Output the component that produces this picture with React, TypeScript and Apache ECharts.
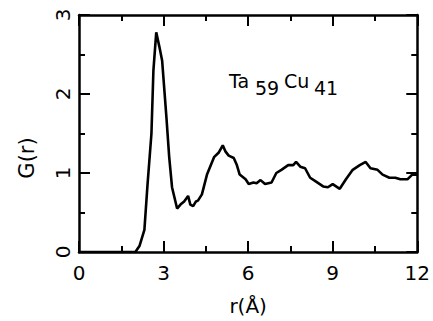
import React, { useEffect, useRef } from "react";
import * as echarts from "echarts";

const rValues = [0, 1.0, 2.0, 2.15, 2.32, 2.43, 2.57, 2.64, 2.74, 2.85, 2.95, 3.1, 3.2, 3.3, 3.48, 3.6, 3.73, 3.87, 3.95, 4.05, 4.15, 4.22, 4.36, 4.54, 4.79, 4.96, 5.1, 5.2, 5.31, 5.49, 5.6, 5.7, 5.91, 6.02, 6.19, 6.3, 6.44, 6.6, 6.83, 7.0, 7.18, 7.42, 7.6, 7.7, 7.85, 8.02, 8.2, 8.41, 8.66, 8.83, 9.0, 9.25, 9.47, 9.71, 9.96, 10.17, 10.34, 10.59, 10.77, 11.01, 11.22, 11.4, 11.65, 11.82, 12];
const gValues = [0, 0, 0, 0.08, 0.28, 0.85, 1.5, 2.3, 2.78, 2.6, 2.42, 1.71, 1.2, 0.82, 0.55, 0.6, 0.64, 0.71, 0.6, 0.58, 0.64, 0.65, 0.73, 0.98, 1.2, 1.26, 1.35, 1.27, 1.22, 1.19, 1.1, 0.98, 0.92, 0.86, 0.88, 0.87, 0.91, 0.86, 0.88, 1.0, 1.04, 1.1, 1.1, 1.14, 1.08, 1.06, 0.94, 0.89, 0.83, 0.82, 0.86, 0.8, 0.92, 1.04, 1.1, 1.14, 1.06, 1.04, 0.98, 0.94, 0.94, 0.92, 0.92, 0.98, 0.98];
const yTickLabels = [0, 1, 2, 3];

const FONT = "DejaVu Sans";

export default function App() {
  const ref = useRef<HTMLDivElement>(null);
  useEffect(() => {
    if (!ref.current) return;
    const chart = echarts.init(ref.current, null, { renderer: "svg" });
    const axisLine = { show: true, onZero: false, lineStyle: { color: "#000", width: 2.5 } };
    const tick = { show: true, inside: true, length: 11, lineStyle: { color: "#000", width: 2 } };
    const minor = { show: true, splitNumber: 2, length: 6, lineStyle: { color: "#000", width: 2 } };
    chart.setOption({
      animation: false,
      backgroundColor: "#fff",
      grid: { left: 79, right: 13, top: 15, bottom: 61, containLabel: false },
      xAxis: [
        {
          type: "value", position: "bottom", min: 0, max: 12, interval: 3,
          axisLine, axisTick: tick, minorTick: minor, splitLine: { show: false },
          axisLabel: { color: "#000", fontSize: 20, fontFamily: FONT, margin: 11 },
          name: "r(Å)", nameLocation: "middle", nameGap: 44,
          nameTextStyle: { color: "#000", fontSize: 20, fontFamily: FONT },
        },
        {
          type: "value", position: "top", min: 0, max: 12, interval: 3,
          axisLine, axisTick: tick, minorTick: minor, splitLine: { show: false },
          axisLabel: { show: false },
        },
      ],
      yAxis: [
        {
          type: "value", position: "left", min: 0, max: 3, interval: 1,
          axisLine, axisTick: tick, minorTick: minor, splitLine: { show: false },
          axisLabel: { show: false },
        },
        {
          type: "value", position: "right", min: 0, max: 3, interval: 1,
          axisLine, axisTick: tick, minorTick: minor, splitLine: { show: false },
          axisLabel: { show: false },
        },
      ],
      series: [
        {
          type: "line",
          xAxisIndex: 0,
          yAxisIndex: 0,
          data: rValues.map((r, i) => [r, gValues[i]]),
          showSymbol: false,
          symbol: "none",
          lineStyle: { color: "#000", width: 2.6 },
        },
      ],
    });
    const labelGraphics = yTickLabels.map((v) => ({
      type: "text",
      x: 63,
      y: chart.convertToPixel({ yAxisIndex: 0 }, v) as number,
      rotation: Math.PI / 2,
      style: { text: String(v), fill: "#000", fontSize: 20, fontFamily: FONT, align: "center", verticalAlign: "middle" },
    }));
    chart.setOption({
      graphic: [
        ...labelGraphics,
        { type: "text", x: 27, y: 158, rotation: Math.PI / 2, style: { text: "G(r)", fill: "#000", fontSize: 21, fontFamily: FONT, align: "center", verticalAlign: "middle" } },
        { type: "text", x: 229, y: 81, style: { text: "Ta", fill: "#000", fontSize: 19, fontFamily: FONT, align: "left", verticalAlign: "middle" } },
        { type: "text", x: 255, y: 88, style: { text: "59", fill: "#000", fontSize: 19, fontFamily: FONT, align: "left", verticalAlign: "middle" } },
        { type: "text", x: 284, y: 81, style: { text: "Cu", fill: "#000", fontSize: 19, fontFamily: FONT, align: "left", verticalAlign: "middle" } },
        { type: "text", x: 314, y: 88, style: { text: "41", fill: "#000", fontSize: 19, fontFamily: FONT, align: "left", verticalAlign: "middle" } },
      ],
    });
    return () => chart.dispose();
  }, []);
  return <div ref={ref} style={{ width: 433, height: 321, position: "absolute", left: 0, top: 0 }} />;
}
